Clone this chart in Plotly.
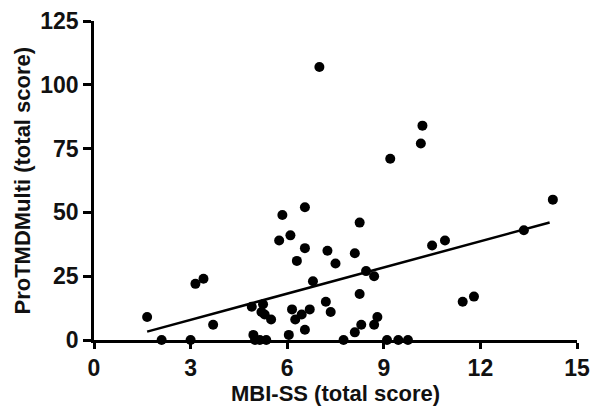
import plotly.graph_objects as go

# MBI-SS (total score)
mbi_ss = [1.65, 2.1, 3.0, 3.15, 3.4, 3.7,
          4.9, 4.95, 5.0, 5.15, 5.35, 5.25, 5.2, 5.3, 5.5,
          5.75, 5.85, 6.05, 6.1, 6.15, 6.25, 6.3, 6.45, 6.55, 6.55, 6.55, 6.7, 6.8, 7.0,
          7.2, 7.25, 7.35, 7.5, 7.75, 8.1, 8.1, 8.25, 8.25, 8.3, 8.45, 8.7, 8.7, 8.8,
          9.1, 9.2, 9.45, 9.75, 10.15, 10.2, 10.5, 10.9, 11.45, 11.8, 13.35, 14.25]
# ProTMDMulti (total score)
protmd = [9, 0, 0, 22, 24, 6,
          13, 2, 0, 0, 0, 14, 11, 10, 8,
          39, 49, 2, 41, 12, 8, 31, 10, 52, 36, 4, 12, 23, 107,
          15, 35, 11, 30, 0, 34, 3, 46, 18, 6, 27, 25, 6, 9,
          0, 71, 0, 0, 77, 84, 37, 39, 15, 17, 43, 55]

# regression line
fit_slope = 3.42
fit_intercept = -2.35

x_ticks = [0, 3, 6, 9, 12, 15]
y_ticks = [0, 25, 50, 75, 100, 125]
x_title = "MBI-SS (total score)"
y_title = "ProTMDMulti (total score)"

x_line = [min(mbi_ss), max(mbi_ss) - 0.1]
y_line = [fit_slope * v + fit_intercept for v in x_line]

fig = go.Figure()
fig.add_trace(go.Scatter(x=mbi_ss, y=protmd, mode="markers",
                         marker=dict(size=10, color="black"),
                         cliponaxis=False, showlegend=False))
fig.add_trace(go.Scatter(x=x_line, y=y_line, mode="lines",
                         line=dict(color="black", width=2.5),
                         showlegend=False))

font_family = "Liberation Sans, Arial, sans-serif"
fs = 23
title_font = dict(size=22, family=font_family, weight="bold", color="#111111")
fig.update_layout(
    width=590, height=406,
    margin=dict(l=94, r=13, t=21, b=66, autoexpand=False),
    plot_bgcolor="white", paper_bgcolor="white",
    font=dict(family=font_family, color="#111111", size=fs, weight="bold"),
    xaxis=dict(range=[0, 15], tickvals=x_ticks, showgrid=False, zeroline=False,
               automargin=False,
               showline=True, linecolor="black", linewidth=2.5,
               ticks="outside", ticklen=6, tickwidth=2.5, tickcolor="black",
               tickfont=dict(size=fs, family=font_family, weight="bold")),
    yaxis=dict(range=[0, 125], tickvals=y_ticks, showgrid=False, zeroline=False,
               automargin=False,
               showline=True, linecolor="black", linewidth=2.5,
               ticks="outside", ticklen=8, tickwidth=2.5, tickcolor="black",
               tickfont=dict(size=fs, family=font_family, weight="bold")),
    annotations=[
        dict(text=x_title, xref="paper", yref="paper", x=0.5, y=-0.168,
             xanchor="center", yanchor="middle", showarrow=False, font=title_font),
        dict(text=y_title, xref="paper", yref="paper", x=-0.149, y=0.5,
             xanchor="center", yanchor="middle", textangle=-90, showarrow=False,
             font=title_font),
    ],
)

fig.write_html("out.html", config={"displayModeBar": False},
               post_script="document.body.style.margin='0';")
